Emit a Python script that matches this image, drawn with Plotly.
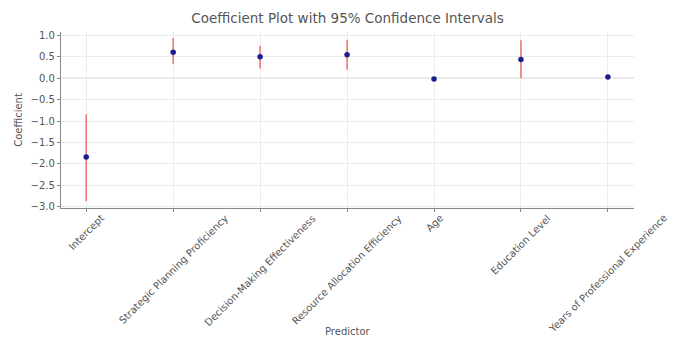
import plotly.graph_objects as go

# Regression coefficients with their 95% confidence bounds
predictors = [
    "Intercept",
    "Strategic Planning Proficiency",
    "Decision-Making Effectiveness",
    "Resource Allocation Efficiency",
    "Age",
    "Education Level",
    "Years of Professional Experience",
]
coef = [-1.84, 0.61, 0.50, 0.55, -0.02, 0.44, 0.03]
ci_low = [-2.87, 0.34, 0.23, 0.20, -0.03, 0.00, 0.02]
ci_high = [-0.84, 0.94, 0.76, 0.90, -0.01, 0.89, 0.04]
y_ticks = [1.0, 0.5, 0.0, -0.5, -1.0, -1.5, -2.0, -2.5, -3.0]

xpos = list(range(len(predictors)))
err_plus = [h - c for h, c in zip(ci_high, coef)]
err_minus = [c - l for c, l in zip(coef, ci_low)]

FONT = "DejaVu Sans"
TXT = "#555555"

fig = go.Figure()
fig.add_trace(go.Scatter(
    x=xpos, y=coef, mode="markers",
    marker=dict(color="#1c1c8e", size=5.5),
    error_y=dict(type="data", symmetric=False, array=err_plus, arrayminus=err_minus,
                 color="rgba(232,90,90,0.8)", thickness=1.6, width=0),
    showlegend=False,
))

# reference line at zero
fig.add_hline(y=0, line=dict(color="#b0b0b0", width=1.2), layer="below")

# rotated category labels centred under each tick
for i, name in zip(xpos, predictors):
    fig.add_annotation(x=i, y=0, xref="x", yref="paper", text=name, showarrow=False,
                       textangle=-45, xanchor="center", yanchor="top", yshift=-2,
                       font=dict(family=FONT, size=10, color=TXT))

# x-axis title below the rotated labels
fig.add_annotation(x=0.5, y=-0.70, xref="paper", yref="paper", text="Predictor",
                   showarrow=False, xanchor="center", yanchor="middle",
                   font=dict(family=FONT, size=10, color=TXT))

fig.update_layout(
    width=676, height=338,
    margin=dict(l=61, r=42, t=32, b=130),
    paper_bgcolor="white", plot_bgcolor="white",
    title=dict(text="Coefficient Plot with 95% Confidence Intervals", x=0.5, xref="paper",
               y=0.945, yref="container", xanchor="center", yanchor="middle",
               font=dict(family=FONT, size=13.5, color=TXT)),
    font=dict(family=FONT, color=TXT),
)
fig.update_xaxes(
    range=[-0.29, 6.3], tickvals=xpos, showticklabels=False,
    showgrid=True, gridcolor="#ececec", gridwidth=1,
    showline=True, linecolor="#888888", linewidth=1.2,
    ticks="outside", ticklen=3, tickcolor="#888888", zeroline=False,
)
fig.update_yaxes(
    range=[-3.03, 1.08], tickvals=y_ticks, tickformat=".1f",
    showgrid=True, gridcolor="#ececec", gridwidth=1,
    showline=True, linecolor="#888888", linewidth=1.2,
    ticks="outside", ticklen=3, tickcolor="#888888", zeroline=False,
    tickfont=dict(family=FONT, size=10, color=TXT),
    title=dict(text="Coefficient", font=dict(family=FONT, size=10, color=TXT), standoff=6),
)

fig.write_html("out.html")
